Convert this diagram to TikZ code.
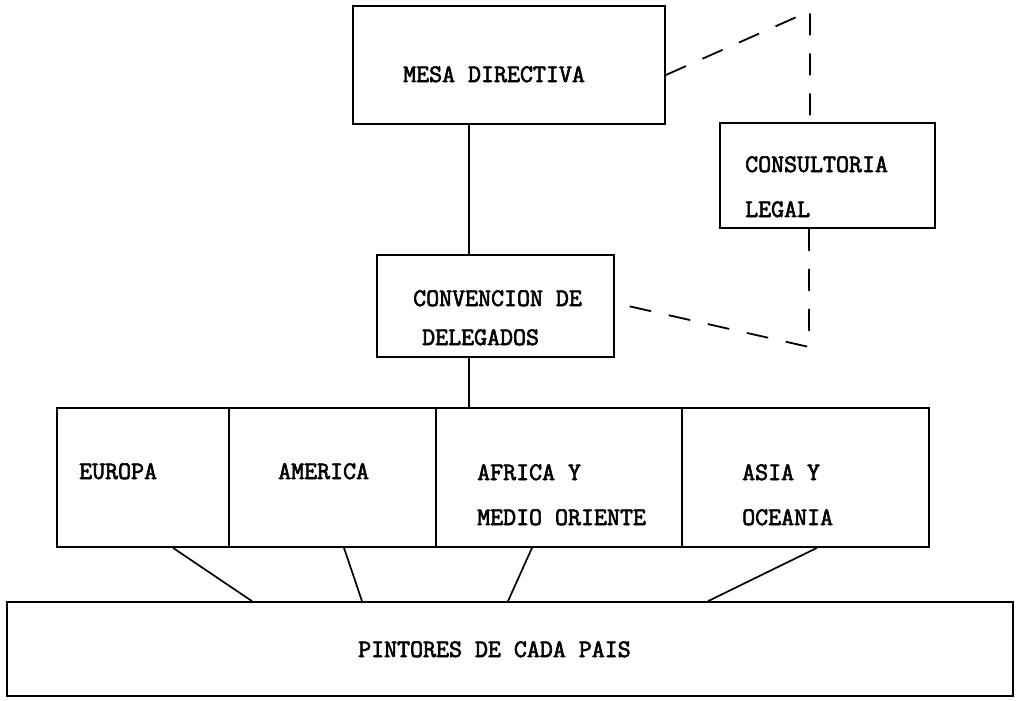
\documentclass[tikz,border=0pt]{standalone}
\usepackage{fontspec}
\setmonofont{Latin Modern Mono}[AutoFakeBold=2.5]
\begin{document}
\begin{tikzpicture}[x=1pt,y=-1pt,
  box/.style={draw,line width=1.7pt,rectangle,inner sep=0pt},
  lbl/.style={anchor=base west,inner sep=0pt,font=\ttfamily\bfseries\fontsize{25.2}{29}\selectfont},
  conn/.style={line width=1.7pt},
  dashline/.style={line width=1.8pt,dash pattern=on 22pt off 18pt}]
\useasboundingbox (0,0) rectangle (1025,701);
% boxes
\node[box,minimum width=312pt,minimum height=118pt] (mesa) at (509,65) {};
\node[box,minimum width=215pt,minimum height=105pt] (consult) at (827.5,175.5) {};
\node[box,minimum width=237pt,minimum height=102pt] (conv) at (495.5,306) {};
\node[box,minimum width=172pt,minimum height=139pt] (europa) at (143,477.5) {};
\node[box,minimum width=207pt,minimum height=139pt] (america) at (332.5,477.5) {};
\node[box,minimum width=246pt,minimum height=139pt] (africa) at (559,477.5) {};
\node[box,minimum width=247pt,minimum height=139pt] (asia) at (805.5,477.5) {};
\node[box,minimum width=1006pt,minimum height=94pt] (pint) at (510,649) {};
% labels
\node[lbl] (tmesa) at (403,82) {MESA DIRECTIVA};
\node[lbl] (tcons1) at (745,172) {CONSULTORIA};
\node[lbl] (tcons2) at (745,217) {LEGAL};
\node[lbl] (tconv1) at (413,306) {CONVENCION DE};
\node[lbl] (tconv2) at (422,345) {DELEGADOS};
\node[lbl] (teur) at (79,479) {EUROPA};
\node[lbl] (tame) at (278,479) {AMERICA};
\node[lbl] (tafr1) at (477,480) {AFRICA Y};
\node[lbl] (tafr2) at (477,525) {MEDIO ORIENTE};
\node[lbl] (tasi1) at (742,480) {ASIA Y};
\node[lbl] (tasi2) at (742,525) {OCEANIA};
\node[lbl] (tpin) at (358,657) {PINTORES DE CADA PAIS};
% solid connectors
\coordinate (cx) at (469,0);
\draw[conn] (mesa.south -| cx) -- (conv.north -| cx);
\draw[conn] (conv.south -| cx) -- (africa.north -| cx);
\coordinate (e1) at (173,0); \coordinate (p1) at (252,0);
\coordinate (e2) at (344,0); \coordinate (p2) at (362,0);
\coordinate (e3) at (532,0); \coordinate (p3) at (508,0);
\coordinate (e4) at (817,0); \coordinate (p4) at (708,0);
\draw[conn] (europa.south -| e1) -- (pint.north -| p1);
\draw[conn] (america.south -| e2) -- (pint.north -| p2);
\draw[conn] (africa.south -| e3) -- (pint.north -| p3);
\draw[conn] (asia.south -| e4) -- (pint.north -| p4);
% dashed connectors
\coordinate (apexA) at (810,11);
\coordinate (apexB) at (809,347);
\draw[dashline] ([yshift=-10pt]mesa.east) -- (apexA) -- (consult.north -| apexA);
\draw[dashline] (consult.south -| apexB) -- (apexB) -- ([yshift=3pt]conv.east);
\end{tikzpicture}
\end{document}
